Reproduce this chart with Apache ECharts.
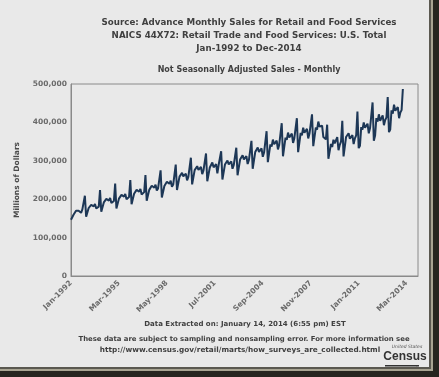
<!DOCTYPE html>
<html>
<head>
<meta charset="utf-8">
<script src="https://cdn.jsdelivr.net/npm/echarts@6/dist/echarts.min.js"></script>
<style>
  html, body { margin: 0; padding: 0; background: #e9e9e9; }
  #chart { width: 439px; height: 377px; }
</style>
</head>
<body>
<div id="chart"></div>
<script>
// 月度零售额（百万美元），未季调
const years = [1992, 1993, 1994, 1995, 1996, 1997, 1998, 1999, 2000, 2001, 2002, 2003,
  2004, 2005, 2006, 2007, 2008, 2009, 2010, 2011, 2012, 2013, 2014]
const monthNames = ['Jan', 'Feb', 'Mar', 'Apr', 'May', 'Jun', 'Jul', 'Aug', 'Sep', 'Oct', 'Nov', 'Dec']

const sales = [
  146376, 147079, 159336, 163669, 170068, 168663, 169890, 170364, 164617, 173655, 171547, 208838,
  154600, 157000, 177100, 177800, 185500, 182600, 181600, 187700, 175600, 179900, 180600, 224000,
  167300, 169900, 191700, 192500, 200800, 197700, 196500, 203200, 190100, 194800, 195500, 241000,
  175900, 178700, 201500, 202400, 211100, 207900, 206700, 213600, 199900, 204800, 205600, 250000,
  186900, 189800, 214100, 214900, 224200, 220800, 219500, 226900, 212300, 217500, 218400, 263000,
  195800, 198900, 224300, 225300, 235000, 231400, 230000, 237800, 222500, 228000, 228800, 275000,
  204400, 207600, 234200, 235200, 245300, 241600, 240100, 248300, 232200, 238000, 238900, 290000,
  224100, 227500, 258900, 254900, 268400, 259300, 260300, 266500, 249100, 257900, 261600, 308000,
  238700, 242400, 275800, 271500, 286000, 276200, 277300, 283900, 265400, 274800, 278700, 319000,
  246700, 248000, 282500, 279900, 295500, 283000, 284000, 291500, 267000, 289000, 286000, 325000,
  251200, 255100, 290200, 285700, 300900, 290600, 291800, 298700, 279200, 289100, 293200, 334000,
  262400, 266400, 303100, 298400, 314300, 303500, 304700, 312000, 291600, 302000, 306200, 352000,
  279300, 283600, 322700, 317700, 334600, 323200, 324400, 332200, 310500, 321500, 326000, 377000,
  296600, 301200, 342700, 337300, 355300, 343100, 344500, 352700, 329700, 341400, 346200, 398000,
  311800, 316600, 360300, 354700, 373500, 360800, 362200, 370900, 346700, 358900, 364000, 411000,
  322300, 327200, 372400, 366600, 386100, 372900, 374300, 383300, 358300, 371000, 376200, 421000,
  338200, 340200, 386600, 381000, 402200, 388900, 387800, 391400, 361900, 363300, 356000, 394000,
  305300, 307800, 343700, 336000, 354900, 345400, 347400, 361500, 327400, 341600, 350000, 404000,
  311500, 315900, 362100, 357000, 371700, 357500, 358600, 366700, 343700, 358400, 366000, 428000,
  332900, 339300, 387600, 381000, 400100, 385800, 387800, 396600, 371500, 385100, 390000, 452000,
  352400, 366000, 411100, 402000, 421100, 404000, 405000, 418200, 392600, 405900, 413000, 466000,
  374700, 381600, 431500, 423000, 446300, 430300, 431300, 439800, 410900, 425700, 432000, 487000
]

const yTicks = [0, 100000, 200000, 300000, 400000, 500000]

// 类目：Jan-1992 ~ Dec-2014
const categories = []
years.forEach((y) => {
  monthNames.forEach((m) => categories.push(m + '-' + y))
})

const font = 'Verdana, "DejaVu Sans", sans-serif'
const chart = echarts.init(document.getElementById('chart'))

chart.setOption({
  backgroundColor: '#e9e9e9',
  animation: false,
  title: [
    {
      text: 'Source: Advance Monthly Sales for Retail and Food Services\nNAICS 44X72: Retail Trade and Food Services: U.S. Total\nJan-1992 to Dec-2014',
      left: 244,
      top: 11,
      textAlign: 'center',
      textStyle: { fontFamily: font, fontSize: 8.7, fontWeight: 'bold', color: '#404040', lineHeight: 13, align: 'center' }
    },
    {
      text: 'Not Seasonally Adjusted Sales - Monthly',
      left: 244,
      top: 61,
      textAlign: 'center',
      textStyle: { fontFamily: font, fontSize: 8, fontWeight: 'bold', color: '#404040' }
    }
  ],
  grid: {
    left: 71,
    right: 21,
    top: 84,
    bottom: 101,
    show: true,
    borderColor: '#8a8a8a',
    borderWidth: 1,
    backgroundColor: 'transparent'
  },
  xAxis: {
    type: 'category',
    data: categories,
    boundaryGap: false,
    axisLine: { lineStyle: { color: '#8a8a8a' } },
    axisTick: { show: false },
    axisLabel: {
      interval: 37,
      rotate: 45,
      margin: 6,
      fontFamily: font,
      fontSize: 7.5,
      fontWeight: 'bold',
      color: '#6a6a6a'
    },
    splitLine: { show: false }
  },
  yAxis: {
    type: 'value',
    min: yTicks[0],
    max: yTicks[yTicks.length - 1],
    interval: 100000,
    name: 'Millions of Dollars',
    nameLocation: 'middle',
    nameGap: 50,
    nameTextStyle: { fontFamily: font, fontSize: 7.5, fontWeight: 'bold', color: '#4a4a4a' },
    axisLine: { show: true, lineStyle: { color: '#8a8a8a' } },
    axisTick: { show: false },
    axisLabel: {
      margin: 4,
      fontFamily: font,
      fontSize: 7.5,
      fontWeight: 'bold',
      color: '#6a6a6a',
      formatter: (v) => v.toLocaleString('en-US')
    },
    splitLine: { show: false }
  },
  series: [
    {
      type: 'line',
      data: sales,
      showSymbol: false,
      lineStyle: { color: '#1d3756', width: 2 },
      itemStyle: { color: '#1d3756' }
    }
  ],
  graphic: [
    {
      type: 'text',
      x: 245,
      y: 321,
      style: {
        text: 'Data Extracted on: January 14, 2014 (6:55 pm) EST',
        font: 'bold 7px ' + font,
        fill: '#404040',
        textAlign: 'center'
      }
    },
    {
      type: 'text',
      x: 244,
      y: 336,
      style: {
        text: 'These data are subject to sampling and nonsampling error. For more information see',
        font: 'bold 6.9px ' + font,
        fill: '#404040',
        textAlign: 'center'
      }
    },
    {
      type: 'text',
      x: 240,
      y: 347,
      style: {
        text: 'http://www.census.gov/retail/marts/how_surveys_are_collected.html',
        font: 'bold 7.3px ' + font,
        fill: '#404040',
        textAlign: 'center'
      }
    },
    // Census 标志
    {
      type: 'text',
      x: 407,
      y: 344,
      style: { text: 'United States', font: 'italic 4.5px ' + font, fill: '#555', textAlign: 'center' }
    },
    {
      type: 'text',
      x: 405,
      y: 351,
      style: { text: 'Census', font: 'bold 12px "Liberation Sans", sans-serif', fill: '#333', textAlign: 'center' }
    },
    { type: 'rect', shape: { x: 385, y: 365, width: 34, height: 1.5 }, style: { fill: '#333' } },
    {
      type: 'text',
      x: 422,
      y: 366,
      style: { text: 'Bureau', font: '3.5px ' + font, fill: '#555', textAlign: 'center' }
    },
    // 相框阴影
    { type: 'rect', shape: { x: 429, y: 0, width: 2, height: 377 }, style: { fill: '#5a5850' } },
    { type: 'rect', shape: { x: 431, y: 0, width: 2, height: 377 }, style: { fill: '#a8a492' } },
    { type: 'rect', shape: { x: 433, y: 0, width: 6, height: 377 }, style: { fill: '#26251f' } },
    { type: 'rect', shape: { x: 0, y: 367, width: 431, height: 2 }, style: { fill: '#5a5850' } },
    { type: 'rect', shape: { x: 0, y: 369, width: 431, height: 2 }, style: { fill: '#a8a492' } },
    { type: 'rect', shape: { x: 0, y: 371, width: 439, height: 6 }, style: { fill: '#26251f' } }
  ]
})
</script>
</body>
</html>
